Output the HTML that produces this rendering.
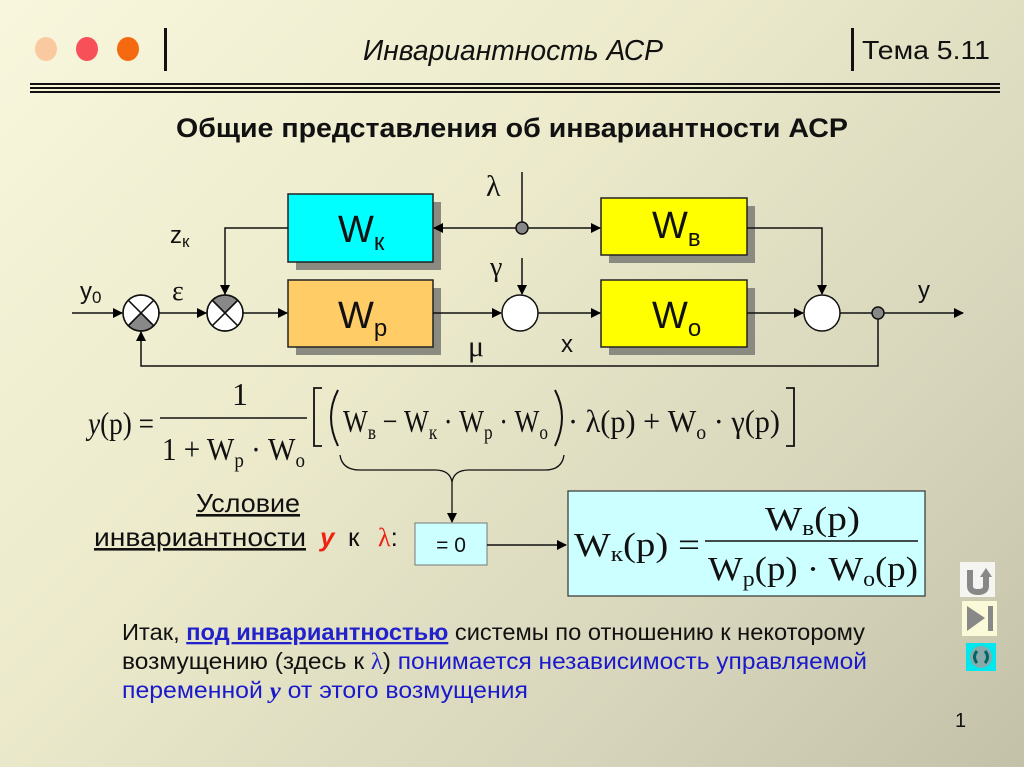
<!DOCTYPE html>
<html><head><meta charset="utf-8"><style>
html,body{margin:0;padding:0;}
body{width:1024px;height:767px;overflow:hidden;background:linear-gradient(135deg,#f8f6dc 0%,#eceacb 40%,#d6d4ba 75%,#c3c1a8 100%);}
svg{display:block;}
</style></head><body>
<svg width="1024" height="767" xmlns="http://www.w3.org/2000/svg" font-family="Liberation Sans, sans-serif">
<defs>
<marker id="a" markerWidth="10" markerHeight="10" refX="9" refY="5" orient="auto" markerUnits="userSpaceOnUse"><path d="M0,0 L10,5 L0,10 Z" fill="#000"/></marker>
</defs>
<!-- header -->
<ellipse cx="46" cy="49" rx="11" ry="12" fill="#fbc9a0"/>
<ellipse cx="87" cy="49" rx="11" ry="12" fill="#f75059"/>
<ellipse cx="128" cy="49" rx="11" ry="12" fill="#f56a10"/>
<rect x="164" y="28" width="3" height="43" fill="#111"/>
<rect x="851" y="28" width="3" height="43" fill="#111"/>
<text x="363" y="60" font-size="29" font-style="italic" fill="#111" textLength="300" lengthAdjust="spacingAndGlyphs">Инвариантность АСР</text>
<text x="862" y="59" font-size="26" fill="#111" textLength="128" lengthAdjust="spacingAndGlyphs">Тема 5.11</text>
<rect x="30" y="83" width="970" height="2" fill="#111"/>
<rect x="30" y="87" width="970" height="2" fill="#111"/>
<rect x="30" y="91" width="970" height="2" fill="#111"/>
<text x="176" y="137" font-size="27" font-weight="bold" fill="#111" textLength="672" lengthAdjust="spacingAndGlyphs">Общие представления об инвариантности АСР</text>

<!-- shadows -->
<g fill="#8a8a80">
<rect x="296" y="202" width="145" height="68"/>
<rect x="296" y="288" width="145" height="67"/>
<rect x="609" y="206" width="146" height="57"/>
<rect x="609" y="288" width="146" height="67"/>
</g>
<g stroke="#222" stroke-width="1.5">
<rect x="288" y="194" width="145" height="68" fill="#00ffff"/>
<rect x="288" y="280" width="145" height="67" fill="#ffcc66"/>
<rect x="601" y="198" width="146" height="57" fill="#ffff00"/>
<rect x="601" y="280" width="146" height="67" fill="#ffff00"/>
</g>
<g font-size="38" fill="#111">
<text x="338" y="242">W<tspan font-size="24" dy="8">к</tspan></text>
<text x="338" y="328">W<tspan font-size="24" dy="8">р</tspan></text>
<text x="652" y="238">W<tspan font-size="24" dy="8">в</tspan></text>
<text x="652" y="328">W<tspan font-size="24" dy="8">о</tspan></text>
</g>

<!-- lines -->
<g stroke="#111" stroke-width="1.5" fill="none">
<line x1="72" y1="313" x2="122" y2="313" marker-end="url(#a)"/>
<line x1="159" y1="313" x2="206" y2="313" marker-end="url(#a)"/>
<line x1="243" y1="313" x2="287" y2="313" marker-end="url(#a)"/>
<line x1="433" y1="313" x2="501" y2="313" marker-end="url(#a)"/>
<line x1="538" y1="313" x2="600" y2="313" marker-end="url(#a)"/>
<line x1="747" y1="313" x2="803" y2="313" marker-end="url(#a)"/>
<line x1="840" y1="313" x2="963" y2="313" marker-end="url(#a)"/>
<line x1="522" y1="172" x2="522" y2="228"/>
<line x1="522" y1="228" x2="434" y2="228" marker-end="url(#a)"/>
<line x1="522" y1="228" x2="600" y2="228" marker-end="url(#a)"/>
<polyline points="288,228 225,228 225,294" marker-end="url(#a)"/>
<line x1="522" y1="258" x2="522" y2="294" marker-end="url(#a)"/>
<polyline points="747,228 822,228 822,294" marker-end="url(#a)"/>
<polyline points="878,313 878,366 141,366 141,332" marker-end="url(#a)"/>
</g>
<!-- summers -->
<g stroke="#111" stroke-width="1.5">
<circle cx="141" cy="313" r="18" fill="#fff"/>
<path d="M141,313 L153.7,325.7 A18,18 0 0 1 128.3,325.7 Z" fill="#888"/>
<line x1="128.3" y1="300.3" x2="153.7" y2="325.7"/><line x1="153.7" y1="300.3" x2="128.3" y2="325.7"/>
<circle cx="141" cy="313" r="18" fill="none"/>
<circle cx="225" cy="313" r="18" fill="#fff"/>
<path d="M225,313 L212.3,300.3 A18,18 0 0 1 237.7,300.3 Z" fill="#888"/>
<line x1="212.3" y1="300.3" x2="237.7" y2="325.7"/><line x1="237.7" y1="300.3" x2="212.3" y2="325.7"/>
<circle cx="225" cy="313" r="18" fill="none"/>
<circle cx="520" cy="313" r="18" fill="#fff"/>
<circle cx="822" cy="313" r="18" fill="#fff"/>
<circle cx="522" cy="228" r="6" fill="#888"/>
<circle cx="878" cy="313" r="6" fill="#888"/>
</g>
<g fill="#111" font-size="24">
<text x="80" y="299">y<tspan font-size="17" dy="4">0</tspan></text>
<text x="172" y="300" font-family="Liberation Serif, serif" font-size="28">ε</text>
<text x="170" y="243">z<tspan font-size="17" dy="4">к</tspan></text>
<text x="486" y="196" font-family="Liberation Serif, serif" font-size="30">λ</text>
<text x="490" y="276" font-family="Liberation Serif, serif" font-size="28">γ</text>
<text x="468" y="356" font-family="Liberation Serif, serif" font-size="30">μ</text>
<text x="561" y="352">x</text>
<text x="918" y="298">y</text>
</g>

<!-- formula -->
<g font-family="Liberation Serif, serif" fill="#111" font-size="32">
<text x="88" y="434" textLength="66" lengthAdjust="spacingAndGlyphs"><tspan font-style="italic">y</tspan>(p) =</text>
<text x="240" y="405" text-anchor="middle">1</text>
<line x1="160" y1="418" x2="307" y2="418" stroke="#111" stroke-width="1.5"/>
<text x="162" y="460" textLength="143" lengthAdjust="spacingAndGlyphs">1 + W<tspan font-size="21" dy="7">р</tspan><tspan dy="-7"> · W</tspan><tspan font-size="21" dy="7">о</tspan></text>
<path d="M322,388 L314,388 L314,446 L322,446 M786,388 L794,388 L794,446 L786,446" fill="none" stroke="#111" stroke-width="1.8"/>
<path d="M338,390 Q324,417 338,446 M555,390 Q569,417 555,446" fill="none" stroke="#111" stroke-width="2"/>
<text x="343" y="432" textLength="205" lengthAdjust="spacingAndGlyphs">W<tspan font-size="21" dy="7">в</tspan><tspan dy="-7"> − W</tspan><tspan font-size="21" dy="7">к</tspan><tspan dy="-7"> · W</tspan><tspan font-size="21" dy="7">р</tspan><tspan dy="-7"> · W</tspan><tspan font-size="21" dy="7">о</tspan></text>
<text x="568" y="432" textLength="212" lengthAdjust="spacingAndGlyphs">· λ(p) + W<tspan font-size="21" dy="7">о</tspan><tspan dy="-7"> · γ(p)</tspan></text>
</g>
<path d="M340,455 Q342,470 360,470 L435,470 Q450,470 452,482 Q454,470 469,470 L545,470 Q562,470 564,455" fill="none" stroke="#111" stroke-width="1.3"/>
<line x1="452" y1="482" x2="452" y2="522" stroke="#111" stroke-width="1.3" marker-end="url(#a)"/>

<text x="300" y="512" text-anchor="end" font-size="26" fill="#111" text-decoration="underline" textLength="104" lengthAdjust="spacingAndGlyphs">Условие</text>
<text x="94" y="546" font-size="26" fill="#111"><tspan text-decoration="underline" textLength="212" lengthAdjust="spacingAndGlyphs">инвариантности</tspan><tspan x="320" fill="#e21" font-style="italic" font-weight="bold">y</tspan><tspan x="348">к</tspan><tspan x="378" fill="#e21" font-family="Liberation Serif, serif">λ</tspan><tspan>:</tspan></text>
<rect x="415" y="523" width="72" height="42" fill="#ccffff" stroke="#777" stroke-width="1"/>
<text x="451" y="552" text-anchor="middle" font-size="21" fill="#111">= 0</text>
<line x1="487" y1="545" x2="566" y2="545" stroke="#111" stroke-width="1.5" marker-end="url(#a)"/>
<rect x="568" y="491" width="357" height="105" fill="#ccffff" stroke="#333" stroke-width="1.2"/>
<g font-family="Liberation Serif, serif" fill="#111" font-size="34">
<text x="574" y="556" textLength="126" lengthAdjust="spacingAndGlyphs">W<tspan font-size="22" dy="5">к</tspan><tspan dy="-5">(p) =</tspan></text>
<text x="765" y="530" textLength="95" lengthAdjust="spacingAndGlyphs">W<tspan font-size="22" dy="5">в</tspan><tspan dy="-5">(p)</tspan></text>
<line x1="705" y1="541" x2="918" y2="541" stroke="#111" stroke-width="1.5"/>
<text x="708" y="580" textLength="210" lengthAdjust="spacingAndGlyphs">W<tspan font-size="22" dy="6">р</tspan><tspan dy="-6">(p) · W</tspan><tspan font-size="22" dy="6">о</tspan><tspan dy="-6">(p)</tspan></text>
</g>

<!-- bottom text -->
<g font-size="23" fill="#111">
<text x="122" y="640" textLength="743" lengthAdjust="spacingAndGlyphs">Итак, <tspan fill="#2222cc" font-weight="bold" text-decoration="underline">под инвариантностью</tspan> системы по отношению к некоторому</text>
<text x="122" y="669" textLength="745" lengthAdjust="spacingAndGlyphs">возмущению (здесь к <tspan fill="#2222cc" font-family="Liberation Serif, serif">λ</tspan>) <tspan fill="#1a1acc">понимается независимость управляемой</tspan></text>
<text x="122" y="698" fill="#1a1acc" textLength="406" lengthAdjust="spacingAndGlyphs">переменной <tspan font-family="Liberation Serif, serif" font-style="italic" font-weight="bold">y</tspan> от этого возмущения</text>
</g>

<!-- nav buttons -->
<rect x="960" y="562" width="35" height="35" fill="#f4f4f0"/>
<path d="M970,570 L970,586 Q970,592 978,592 Q986,592 986,586 L986,576" fill="none" stroke="#888" stroke-width="6"/>
<path d="M980,577 L986,568 L992,577 Z" fill="#888"/>
<rect x="962" y="601" width="35" height="35" fill="#fafad8"/>
<path d="M967,606 L985,618 L967,631 Z" fill="#888"/>
<rect x="988" y="606" width="5" height="25" fill="#888"/>
<rect x="966" y="643" width="30" height="28" fill="#00e8ee"/>
<circle cx="981" cy="657" r="11" fill="#8aa"/>
<path d="M977,651 Q972,657 977,663 M985,651 Q990,657 985,663" stroke="#066" stroke-width="3" fill="none"/>
<text x="955" y="727" font-size="20" fill="#111">1</text>
</svg>
</body></html>
